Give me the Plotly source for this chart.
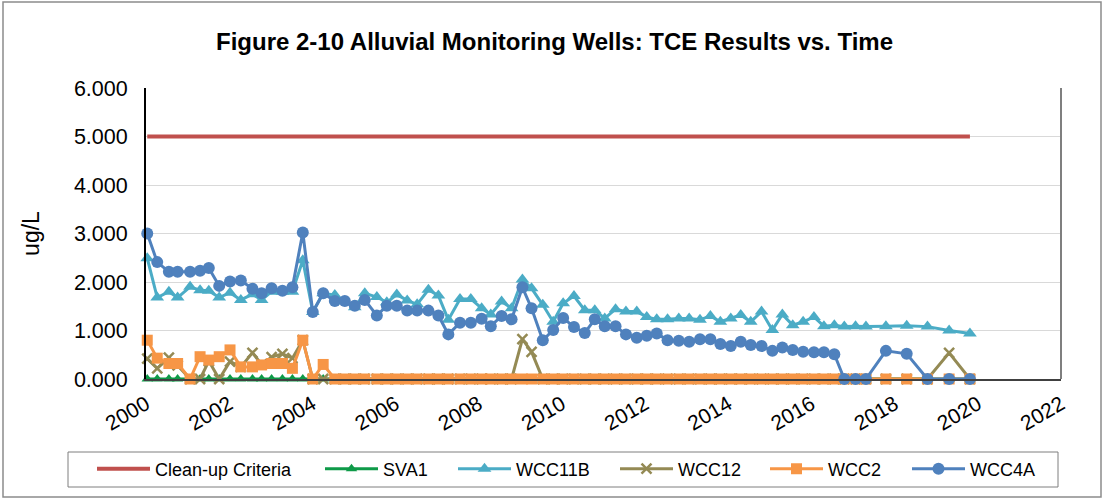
import plotly.graph_objects as go

# ---------------- data ----------------
dates = [2000.03, 2000.27, 2000.55, 2000.76, 2001.06, 2001.30, 2001.51, 2001.76,
         2002.02, 2002.28, 2002.56, 2002.78, 2003.02, 2003.28, 2003.52, 2003.77,
         2004.01, 2004.26, 2004.54, 2004.78, 2005.02, 2005.26, 2005.55, 2005.79,
         2006.03, 2006.28, 2006.52, 2006.79, 2007.03, 2007.27, 2007.55, 2007.81,
         2008.07, 2008.29, 2008.55, 2008.79, 2009.05, 2009.27, 2009.54, 2009.79,
         2010.03, 2010.29, 2010.55, 2010.79, 2011.03, 2011.29, 2011.54, 2011.80,
         2012.04, 2012.28, 2012.54, 2012.81, 2013.06, 2013.32, 2013.57, 2013.81,
         2014.06, 2014.30, 2014.54, 2014.80, 2015.06, 2015.30, 2015.55, 2015.80,
         2016.06, 2016.30, 2016.55, 2016.79, 2017.06, 2017.31, 2017.79, 2018.29,
         2018.79, 2019.31, 2019.81]

wcc4a = [3.00, 2.41, 2.21, 2.21, 2.21, 2.23, 2.29, 1.92, 2.01, 2.03, 1.86, 1.77,
         1.87, 1.82, 1.89, 3.02, 1.38, 1.77,
         1.61, 1.61, 1.51, 1.63, 1.31, 1.51, 1.51, 1.41, 1.41, 1.41, 1.31, 0.92,
         1.16, 1.16, 1.24, 1.09, 1.30, 1.23,
         1.89, 1.46, 0.80, 1.01, 1.26, 1.07, 0.95, 1.23, 1.09, 1.09, 0.92, 0.85,
         0.89, 0.94, 0.80, 0.79,
         0.77, 0.82, 0.82, 0.72, 0.68, 0.77, 0.70, 0.68, 0.58, 0.65, 0.60, 0.56,
         0.55, 0.55, 0.51, 0.00,
         0.00, 0.00, 0.58, 0.52, 0.00, 0.00, 0.00]

wcc11b = [2.49, 1.68, 1.80, 1.68, 1.90, 1.83, 1.82, 1.68, 1.78, 1.63, 1.75, 1.63,
          1.80, 1.80, 1.80, 2.45, 1.38, 1.77,
          1.73, 1.60, 1.48, 1.77, 1.69, 1.58, 1.74, 1.62, 1.54, 1.84, 1.72, 1.22,
          1.65, 1.65, 1.46, 1.33, 1.60, 1.46,
          2.05, 1.87, 1.53, 1.18, 1.56, 1.71, 1.42, 1.42, 1.25, 1.44, 1.39, 1.39,
          1.28, 1.23, 1.23, 1.25,
          1.25, 1.22, 1.30, 1.18, 1.25, 1.32, 1.18, 1.39, 1.01, 1.33, 1.11, 1.18,
          1.28, 1.09, 1.11, 1.08,
          1.09, 1.08, 1.09, 1.10, 1.08, 1.00, 0.94]

wcc12 = [0.42, 0.22, 0.44, 0.28, 0.00, 0.00, 0.37, 0.00, 0.36, 0.25, 0.54, 0.30,
         0.45, 0.52, 0.43, 0.80, 0.00, 0.00,
         0.00, 0.00, 0.00, 0.00, 0.00, 0.00, 0.00, 0.00, 0.00, 0.00, 0.00, 0.00,
         0.00, 0.00, 0.00, 0.00, 0.00, 0.00,
         0.82, 0.56, 0.00, 0.00, 0.00, 0.00, 0.00, 0.00, 0.00, 0.00, 0.00, 0.00,
         0.00, 0.00, 0.00, 0.00,
         0.00, 0.00, 0.00, 0.00, 0.00, 0.00, 0.00, 0.00, 0.00, 0.00, 0.00, 0.00,
         0.00, 0.00, 0.00, 0.00,
         0.00, 0.00, 0.00, 0.00, 0.00, 0.54, 0.00]

wcc2 = [0.80, 0.43, 0.32, 0.32, 0.00, 0.46, 0.39, 0.46, 0.60, 0.25, 0.25, 0.29,
        0.32, 0.32, 0.22, 0.80, 0.00, 0.30,
        0.00, 0.00, 0.00, 0.00, 0.00, 0.00, 0.00, 0.00, 0.00, 0.00, 0.00, 0.00,
        0.00, 0.00, 0.00, 0.00, 0.00, 0.00,
        0.00, 0.00, 0.00, 0.00, 0.00, 0.00, 0.00, 0.00, 0.00, 0.00, 0.00, 0.00,
        0.00, 0.00, 0.00, 0.00,
        0.00, 0.00, 0.00, 0.00, 0.00, 0.00, 0.00, 0.00, 0.00, 0.00, 0.00, 0.00,
        0.00, 0.00, 0.00, 0.00,
        0.00, 0.00, 0.00, 0.00, 0.00, 0.00, 0.00]

sva1 = [0.00] * len(dates)

cleanup_dates = [2000.03, 2019.81]
cleanup_vals = [5.0, 5.0]

series_names = ["Clean-up Criteria", "SVA1", "WCC11B", "WCC12", "WCC2", "WCC4A"]
y_ticks = [0, 1, 2, 3, 4, 5, 6]
x_ticks = [2000, 2002, 2004, 2006, 2008, 2010, 2012, 2014, 2016, 2018, 2020, 2022]

# ---------------- layout geometry ----------------
W, H = 1109, 499
L, R, T, B = 146, 1061, 88, 379   # plot area in pixels


def px_x(p):
    return (p - L) / (R - L)


def px_y(p):
    return (B - p) / (B - T)


FONT = "Arial, 'Liberation Sans', sans-serif"

fig = go.Figure()

# legend symbol start pixels
leg_starts = [97, 325, 458, 620, 770, 912]
leg_y = 469

styles = [
    dict(mode="lines", line=dict(color="#C0504D", width=4)),
    dict(mode="lines+markers", line=dict(color="#0E9A48", width=3),
         marker=dict(symbol="triangle-up", size=10, color="#0E9A48")),
    dict(mode="lines+markers", line=dict(color="#4BACC6", width=3),
         marker=dict(symbol="triangle-up", size=12, color="#4BACC6")),
    dict(mode="lines+markers", line=dict(color="#948A54", width=3),
         marker=dict(symbol="x-thin-open", size=10,
                     line=dict(color="#948A54", width=2.5))),
    dict(mode="lines+markers", line=dict(color="#F79646", width=3),
         marker=dict(symbol="square", size=11, color="#F79646")),
    dict(mode="lines+markers", line=dict(color="#4F81BD", width=3),
         marker=dict(symbol="circle", size=12, color="#4F81BD")),
]

xs = [cleanup_dates, dates, dates, dates, dates, dates]
ys = [cleanup_vals, sva1, wcc11b, wcc12, wcc2, wcc4a]

legend_layouts = {}
for i, (name, x, y, st) in enumerate(zip(series_names, xs, ys, styles)):
    lname = "legend" if i == 0 else f"legend{i + 1}"
    fig.add_trace(go.Scatter(x=x, y=y, name=name, legend=lname,
                             cliponaxis=False, **st))
    legend_layouts[lname] = dict(
        x=px_x(leg_starts[i] - 5), y=px_y(leg_y),
        xanchor="left", yanchor="middle", orientation="h",
        font=dict(family=FONT, size=18, color="#000000"),
        bgcolor="rgba(0,0,0,0)", borderwidth=0, itemwidth=53,
    )

fig.update_layout(
    width=W, height=H,
    margin=dict(l=L, r=W - R, t=T, b=H - B, pad=0),
    paper_bgcolor="white", plot_bgcolor="white",
    font=dict(family=FONT, color="#000000"),
    title=dict(text="<b>Figure 2-10 Alluvial Monitoring Wells: TCE Results vs. Time</b>",
               x=0.5, xanchor="center", y=1 - 42 / H, yanchor="middle",
               font=dict(family=FONT, size=24, color="#000000")),
    showlegend=True,
    xaxis=dict(range=[2000, 2022], tickvals=x_ticks, tickangle=-30,
               tickfont=dict(family=FONT, size=21, color="#000000"),
               showgrid=False, zeroline=False, showline=True,
               linecolor="#404040", linewidth=2, ticks="", ticklabelstandoff=3),
    yaxis=dict(range=[0, 6], tickvals=y_ticks, tickformat=".3f",
               tickfont=dict(family=FONT, size=21.5, color="#000000"),
               showgrid=True, gridcolor="#D9D9D9", gridwidth=1,
               zeroline=False, showline=True, linecolor="#000000", linewidth=2,
               ticks="", ticklabelstandoff=12,
               title=dict(text="ug/L", standoff=28,
                          font=dict(family=FONT, size=23, color="#000000"))),
    shapes=[
        # outer chart border
        dict(type="rect", xref="paper", yref="paper",
             x0=px_x(3), x1=px_x(1101), y0=px_y(497), y1=px_y(2),
             line=dict(color="#8C8C8C", width=1.5), fillcolor="rgba(0,0,0,0)",
             layer="below"),
        # plot area right border
        dict(type="line", xref="paper", yref="paper", x0=1, x1=1, y0=0, y1=1,
             line=dict(color="#7F7F7F", width=2)),
        # legend box
        dict(type="rect", xref="paper", yref="paper",
             x0=px_x(68), x1=px_x(1058), y0=px_y(487), y1=px_y(452),
             line=dict(color="#7F7F7F", width=1), fillcolor="rgba(0,0,0,0)"),
    ],
    **legend_layouts,
)

fig.write_html("out.html",
               config={"displayModeBar": False},
               post_script="document.body.style.margin='0';document.body.style.padding='0';")
